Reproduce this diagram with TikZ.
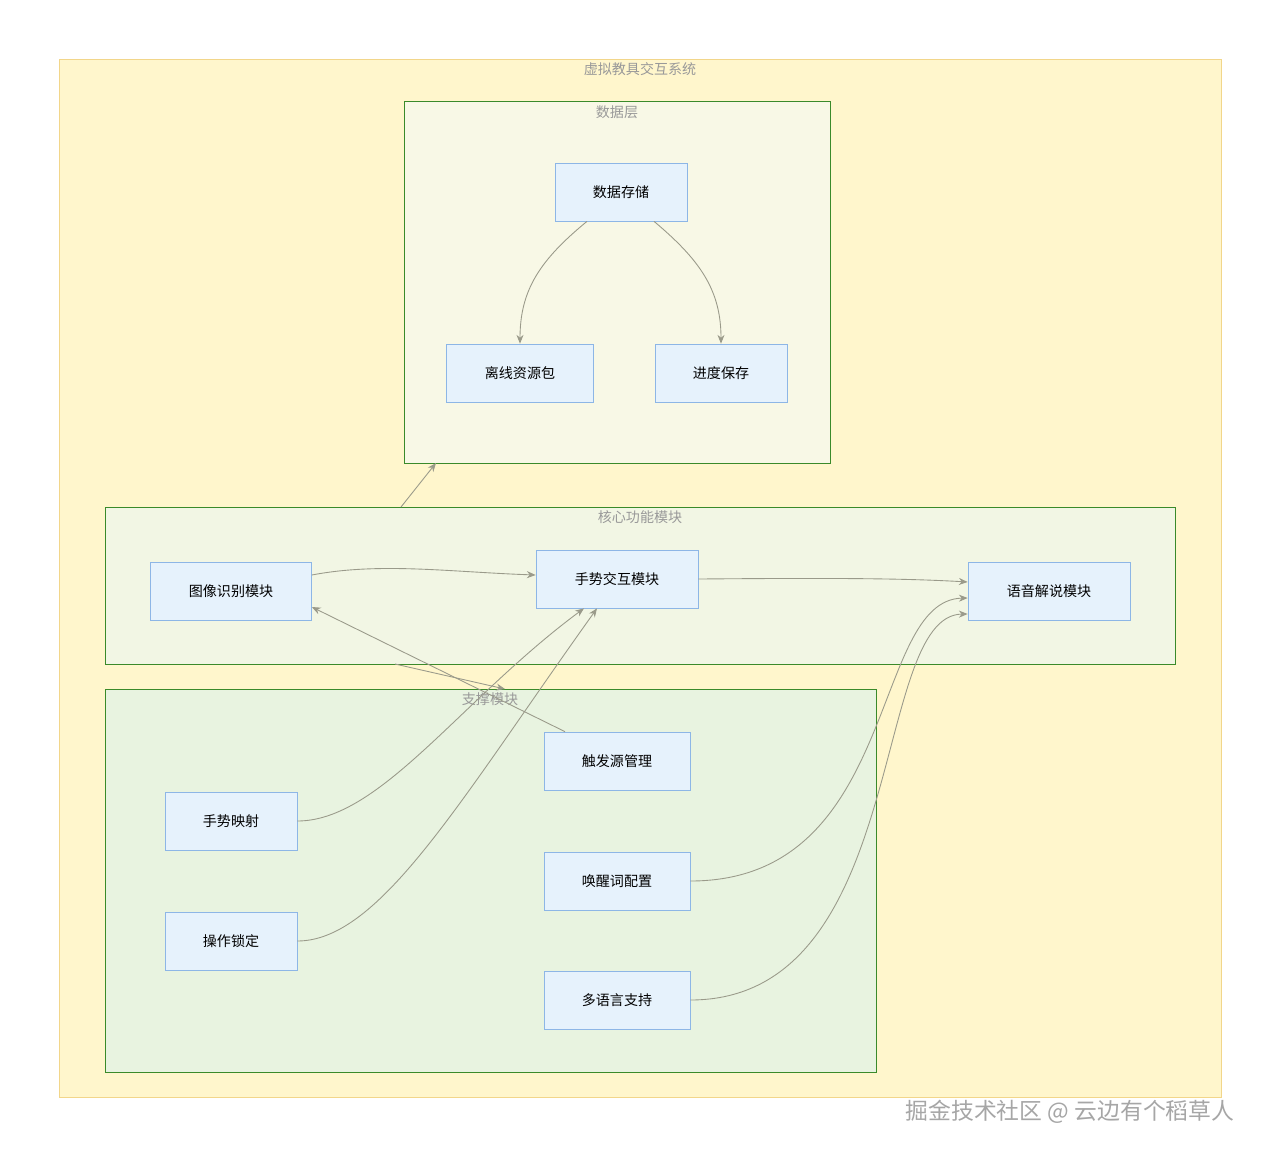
\documentclass[tikz,border=0pt]{standalone}
\usepackage{fontspec}
\setmainfont{Noto Sans CJK SC}
\usetikzlibrary{arrows.meta,calc}
\definecolor{boxfill}{HTML}{E6F2FC}
\definecolor{boxline}{HTML}{8DB6E6}
\definecolor{edgecol}{HTML}{9A9A8A}
\definecolor{grpline}{HTML}{3A8A2A}
\definecolor{outline}{HTML}{F2D68A}
\definecolor{outfill}{HTML}{FFF6CC}
\tikzset{
  box/.style={draw=boxline, fill=boxfill, minimum height=1.16cm, font=\fontsize{8}{10}\selectfont},
  grp/.style={draw=grpline, line width=0.5pt},
  grptitle/.style={text=gray!80, font=\fontsize{8}{10}\selectfont},
  link/.style={draw=edgecol, line width=0.5pt, -{Stealth[length=5pt,width=4pt]}}
}
\begin{document}
\begin{tikzpicture}[x=0.02cm, y=-0.02cm]
\useasboundingbox[fill=white] (0,0) rectangle (1280,1156);
% groups
\draw[draw=outline, fill=outfill] (59,59) rectangle (1221,1097);
\node[grptitle] (ttl) at (640,69) {虚拟教具交互系统};
\draw[grp, fill={rgb,255:red,248;green,248;blue,230}] (404,101) rectangle (830,463);
\node[grptitle] (tdata) at (617,112) {数据层};
\coordinate (datab) at (436,463);
\draw[grp, fill={rgb,255:red,242;green,246;blue,228}] (105,507) rectangle (1175,664);
\node[grptitle] (tcore) at (640,517) {核心功能模块};
\coordinate (coret) at (401,507);
\coordinate (coreb) at (395,664);
\draw[grp, fill={rgb,255:red,232;green,243;blue,224}] (105,689) rectangle (876,1072);
\node[grptitle] (tsup) at (490,699) {支撑模块};
\coordinate (supt) at (505,689);
% nodes
\node[box, minimum width=2.64cm] (store) at (621,192) {数据存储};
\node[box, minimum width=2.94cm] (offline) at (520,373) {离线资源包};
\node[box, minimum width=2.64cm] (progress) at (721,373) {进度保存};
\node[box, minimum width=3.22cm] (image) at (231,591) {图像识别模块};
\node[box, minimum width=3.24cm] (gesture) at (617,579) {手势交互模块};
\node[box, minimum width=3.24cm] (voice) at (1049,591) {语音解说模块};
\node[box, minimum width=2.92cm] (trigger) at (617,761) {触发源管理};
\node[box, minimum width=2.64cm] (gmap) at (231,821) {手势映射};
\node[box, minimum width=2.64cm] (lock) at (231,941) {操作锁定};
\node[box, minimum width=2.92cm] (wake) at (617,881) {唤醒词配置};
\node[box, minimum width=2.92cm] (lang) at (617,1000) {多语言支持};
% edges
\draw[link] ($(store.south)+(-34,0)$) .. controls (540,260) and (520,290) .. (offline.north);
\draw[link] ($(store.south)+(33,0)$) .. controls (700,260) and (721,290) .. (progress.north);
\draw[link] (coret) -- (datab);
\draw[link] ($(image.east)+(0,-16)$) .. controls (380,562) and (450,572) .. ($(gesture.west)+(0,-4)$);
\draw[link] (gesture.east) .. controls (820,578) and (900,578) .. ($(voice.west)+(0,-9)$);
\draw[link] ($(trigger.north)+(-52,0)$) -- ($(image.east)+(0,16)$);
\draw[link] (coreb) -- (supt);
\draw[link] (gmap.east) .. controls (380,821) and (460,700) .. ($(gesture.south)+(-33,0)$);
\draw[link] (lock.east) .. controls (380,941) and (460,800) .. ($(gesture.south)+(-20,0)$);
\draw[link] (wake.east) .. controls (900,881) and (870,600) .. ($(voice.west)+(0,7)$);
\draw[link] (lang.east) .. controls (910,1000) and (870,615) .. ($(voice.west)+(0,23)$);
% watermark
\node[text=gray!70, font=\fontsize{13}{15}\selectfont] (mark) at (1070,1112) {掘金技术社区 @ 云边有个稻草人};
\end{tikzpicture}
\end{document}
